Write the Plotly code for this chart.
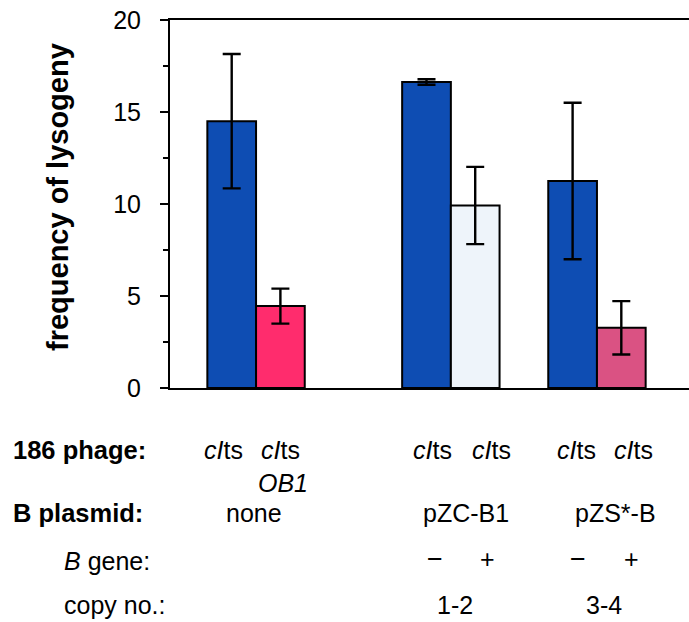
import plotly.graph_objects as go

# ---- data ----
phage = ["cIts", "cIts OB1", "cIts", "cIts", "cIts", "cIts"]
plasmid = ["none", "none", "pZC-B1", "pZC-B1", "pZS*-B", "pZS*-B"]
values = [14.5, 4.45, 16.63, 9.92, 11.25, 3.27]
errors = [3.65, 0.95, 0.15, 2.1, 4.25, 1.45]
colors = ["#0E4DB3", "#FF2C6D", "#0E4DB3", "#EEF4FA", "#0E4DB3", "#DA5283"]
slots = [0, 1, 4, 5, 7, 8]
y_ticks = [0, 5, 10, 15, 20]

FONT = "Liberation Sans, Arial, sans-serif"

fig = go.Figure()
fig.add_trace(go.Bar(
    x=slots, y=values, width=1.0,
    marker=dict(color=colors, line=dict(color="black", width=2)),
    error_y=dict(type="data", array=errors, visible=True,
                 color="black", thickness=2.4, width=9),
    hoverinfo="y",
))

# geometry helpers (pixel -> paper)
L, R, T, B = 170, 0, 20, 234
W, H = 689, 622
pw, ph = W - L - R, H - T - B


def px(x):
    return (x - L) / pw


def py(y):
    return (H - B - y) / ph


ann = []


def add(text, x, y, size=25, bold=False, anchor="center", xref="paper"):
    t = f"<b>{text}</b>" if bold else text
    ann.append(dict(text=t, x=x, y=py(y), xref=xref, yref="paper",
                    xanchor=anchor, yanchor="middle", showarrow=False,
                    font=dict(family=FONT, size=size, color="black")))


# y-axis title
ann.append(dict(text="<b>frequency of lysogeny</b>", x=px(58), y=py(197),
                xref="paper", yref="paper", xanchor="center", yanchor="middle",
                textangle=-90, showarrow=False,
                font=dict(family=FONT, size=29, color="black")))

# row labels
add("186 phage:", px(11), 450, size=25.5, bold=True, anchor="left")
add("B plasmid:", px(11), 513, size=25.5, bold=True, anchor="left")
add("<i>B</i> gene:", px(62), 561, anchor="left")
add("copy no.:", px(62), 605, anchor="left")

# group labels (data x)
CI = "<i>cI</i>ts"
add(CI, -0.16, 450, xref="x")
add(CI, 1.01, 450, xref="x")
add("<i>OB1</i>", 1.06, 483, xref="x")
add("none", 0.45, 513, xref="x")

add(CI, 4.13, 450, xref="x")
add(CI, 5.33, 450, xref="x")
add("pZC-B1", 4.81, 513, xref="x")
add("\u2212", 4.18, 559, xref="x", size=27)
add("+", 5.26, 559, xref="x")
add("1-2", 4.59, 605, xref="x")

add(CI, 7.09, 450, xref="x")
add(CI, 8.26, 450, xref="x")
add("pZS*-B", 7.89, 513, xref="x")
add("\u2212", 7.11, 559, xref="x", size=27)
add("+", 8.20, 559, xref="x")
add("3-4", 7.65, 605, xref="x")

fig.update_layout(
    width=W, height=H,
    margin=dict(l=L, r=R, t=T, b=B, pad=0),
    paper_bgcolor="white", plot_bgcolor="white",
    showlegend=False,
    annotations=ann,
    xaxis=dict(range=[-1.267, 9.39], showgrid=False, zeroline=False,
               showline=True, linecolor="black", linewidth=2, mirror=True,
               showticklabels=False, ticks=""),
    yaxis=dict(range=[0, 20], tickvals=y_ticks, showgrid=False, zeroline=False,
               showline=True, linecolor="black", linewidth=2,
               ticks="outside", ticklen=8, tickwidth=2, tickcolor="black",
               minor=dict(dtick=2.5, ticks="outside", ticklen=5,
                          tickwidth=2, tickcolor="black"),
               tickfont=dict(family=FONT, size=25, color="black"),
               ticklabelstandoff=14),
)

fig.write_html(
    "out.html",
    config={"displayModeBar": False},
    post_script="document.body.style.margin='0';document.body.style.overflow='hidden';",
)
